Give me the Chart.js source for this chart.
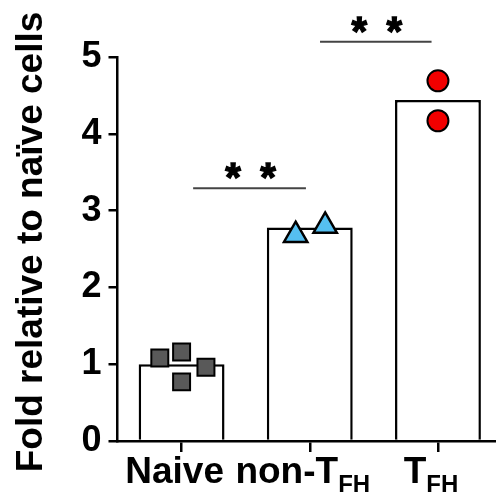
<!DOCTYPE html>
<html>
<head>
<meta charset="utf-8">
<script src="https://cdn.jsdelivr.net/npm/chart.js@4"></script>
<style>
  html, body { margin: 0; padding: 0; background: #fff; overflow: hidden; }
  #wrap { width: 496px; height: 498px; overflow: hidden; }
</style>
</head>
<body>
<div id="wrap"><canvas id="chart" width="511" height="498"></canvas></div>
<script>
// categorias y valores
const categories = ['Naive', 'non-T', 'T'];
const subscripts = ['', 'FH', 'FH'];
const barMeans = [1.0, 2.78, 4.44];
const yTicks = [0, 1, 2, 3, 4, 5];
const yTitle = 'Fold relative to naïve cells';

// puntos individuales (x = indice de categoria con jitter)
const naiveX = [-0.17, 0, 0, 0.19];
const naiveY = [1.08, 1.16, 0.77, 0.96];
const nonTfhX = [0.89, 1.12];
const nonTfhY = [2.68, 2.80];
const tfhX = [2, 2];
const tfhY = [4.69, 4.17];

// significancia
const sigFrom = [0.09, 1.08];
const sigTo = [0.97, 1.95];
const sigLevel = [3.29, 5.2];
const sigLabel = ['**', '**'];

const FONT = "'Liberation Sans', Arial, sans-serif";

const toPoints = (xs, ys) => xs.map((x, i) => ({ x: x, y: ys[i] }));

// lineas de significancia
const sigPlugin = {
  id: 'sig',
  afterDatasetsDraw(chart) {
    const ctx = chart.ctx;
    const xs = chart.scales.x, y = chart.scales.y;
    ctx.save();
    sigFrom.forEach((f, i) => {
      const x1 = xs.getPixelForValue(f), x2 = xs.getPixelForValue(sigTo[i]);
      const yy = y.getPixelForValue(sigLevel[i]);
      ctx.strokeStyle = '#444';
      ctx.lineWidth = 2;
      ctx.beginPath();
      ctx.moveTo(x1, yy);
      ctx.lineTo(x2, yy);
      ctx.stroke();
      const cx = (x1 + x2) / 2 + 1;
      ctx.fillStyle = '#000';
      ctx.strokeStyle = '#000';
      ctx.lineWidth = 1.3;
      ctx.font = 'bold 40px ' + FONT;
      ctx.textAlign = 'center';
      ctx.textBaseline = 'alphabetic';
      const stars = sigLabel[i].split('');
      stars.forEach((s, k) => {
        const off = (k - (stars.length - 1) / 2) * 35;
        ctx.fillText(s, cx + off, yy + 3);
        ctx.strokeText(s, cx + off, yy + 3);
      });
    });
    ctx.restore();
  }
};

// etiquetas x con subindice + titulo y
const labelPlugin = {
  id: 'labels',
  afterDraw(chart) {
    const ctx = chart.ctx;
    const sx = chart.scales.x;
    ctx.save();
    ctx.fillStyle = '#000';
    ctx.textBaseline = 'alphabetic';
    ctx.textAlign = 'left';
    categories.forEach((c, i) => {
      const cx = sx.getPixelForValue(i) - 7;
      ctx.font = 'bold 37px ' + FONT;
      const w1 = ctx.measureText(c).width;
      ctx.font = 'bold 24px ' + FONT;
      const w2 = subscripts[i] ? ctx.measureText(subscripts[i]).width : 0;
      const start = cx - (w1 + w2) / 2;
      ctx.font = 'bold 37px ' + FONT;
      ctx.fillText(c, start, 483);
      if (subscripts[i]) {
        ctx.font = 'bold 24px ' + FONT;
        ctx.fillText(subscripts[i], start + w1, 492);
      }
    });
    // titulo eje y
    ctx.translate(42, 242);
    ctx.rotate(-Math.PI / 2);
    ctx.textAlign = 'center';
    ctx.font = 'bold 37px ' + FONT;
    ctx.fillText(yTitle, 0, 0);
    ctx.restore();
  }
};

new Chart(document.getElementById('chart').getContext('2d'), {
  type: 'bar',
  data: {
    datasets: [
      { type: 'scatter', data: toPoints(naiveX, naiveY), order: 0,
        pointStyle: 'rect', pointRadius: 12, backgroundColor: '#595959', borderColor: '#000', borderWidth: 2 },
      { type: 'scatter', data: toPoints(nonTfhX, nonTfhY), order: 0,
        pointStyle: 'triangle', pointRadius: 13.5, backgroundColor: '#55bff0', borderColor: '#000', borderWidth: 2.5 },
      { type: 'scatter', data: toPoints(tfhX, tfhY), order: 0,
        pointStyle: 'circle', pointRadius: 10.5, backgroundColor: '#f20000', borderColor: '#000', borderWidth: 2 },
      { data: barMeans.map((v, i) => ({ x: i, y: v })), order: 10, grouped: false,
        backgroundColor: '#fff', borderColor: '#000', borderWidth: 2.5,
        barPercentage: 0.67, categoryPercentage: 1 }
    ]
  },
  options: {
    responsive: false,
    animation: false,
    layout: { padding: { top: 57, left: 0, right: 0, bottom: 0 } },
    plugins: { legend: { display: false }, tooltip: { enabled: false } },
    scales: {
      x: {
        type: 'linear', min: -0.5, max: 2.445, offset: false,
        afterBuildTicks(s) { s.ticks = categories.map((c, i) => ({ value: i })); },
        grid: { display: true, drawOnChartArea: false, offset: false, tickLength: 11, color: '#000', lineWidth: 2.5 },
        border: { color: '#000', width: 2.5 },
        ticks: { display: false },
        afterFit(s) { s.height = 57; }
      },
      y: {
        min: 0, max: 5,
        afterBuildTicks(s) { s.ticks = yTicks.map(v => ({ value: v })); },
        grid: { drawOnChartArea: false, tickLength: 9, color: '#000', lineWidth: 2.5 },
        border: { color: '#000', width: 2.5 },
        ticks: { color: '#000', padding: 7, font: { family: FONT, size: 36, weight: 'bold' } },
        afterFit(s) { s.width = 117.5; }
      }
    }
  },
  plugins: [sigPlugin, labelPlugin]
});
</script>
</body>
</html>
